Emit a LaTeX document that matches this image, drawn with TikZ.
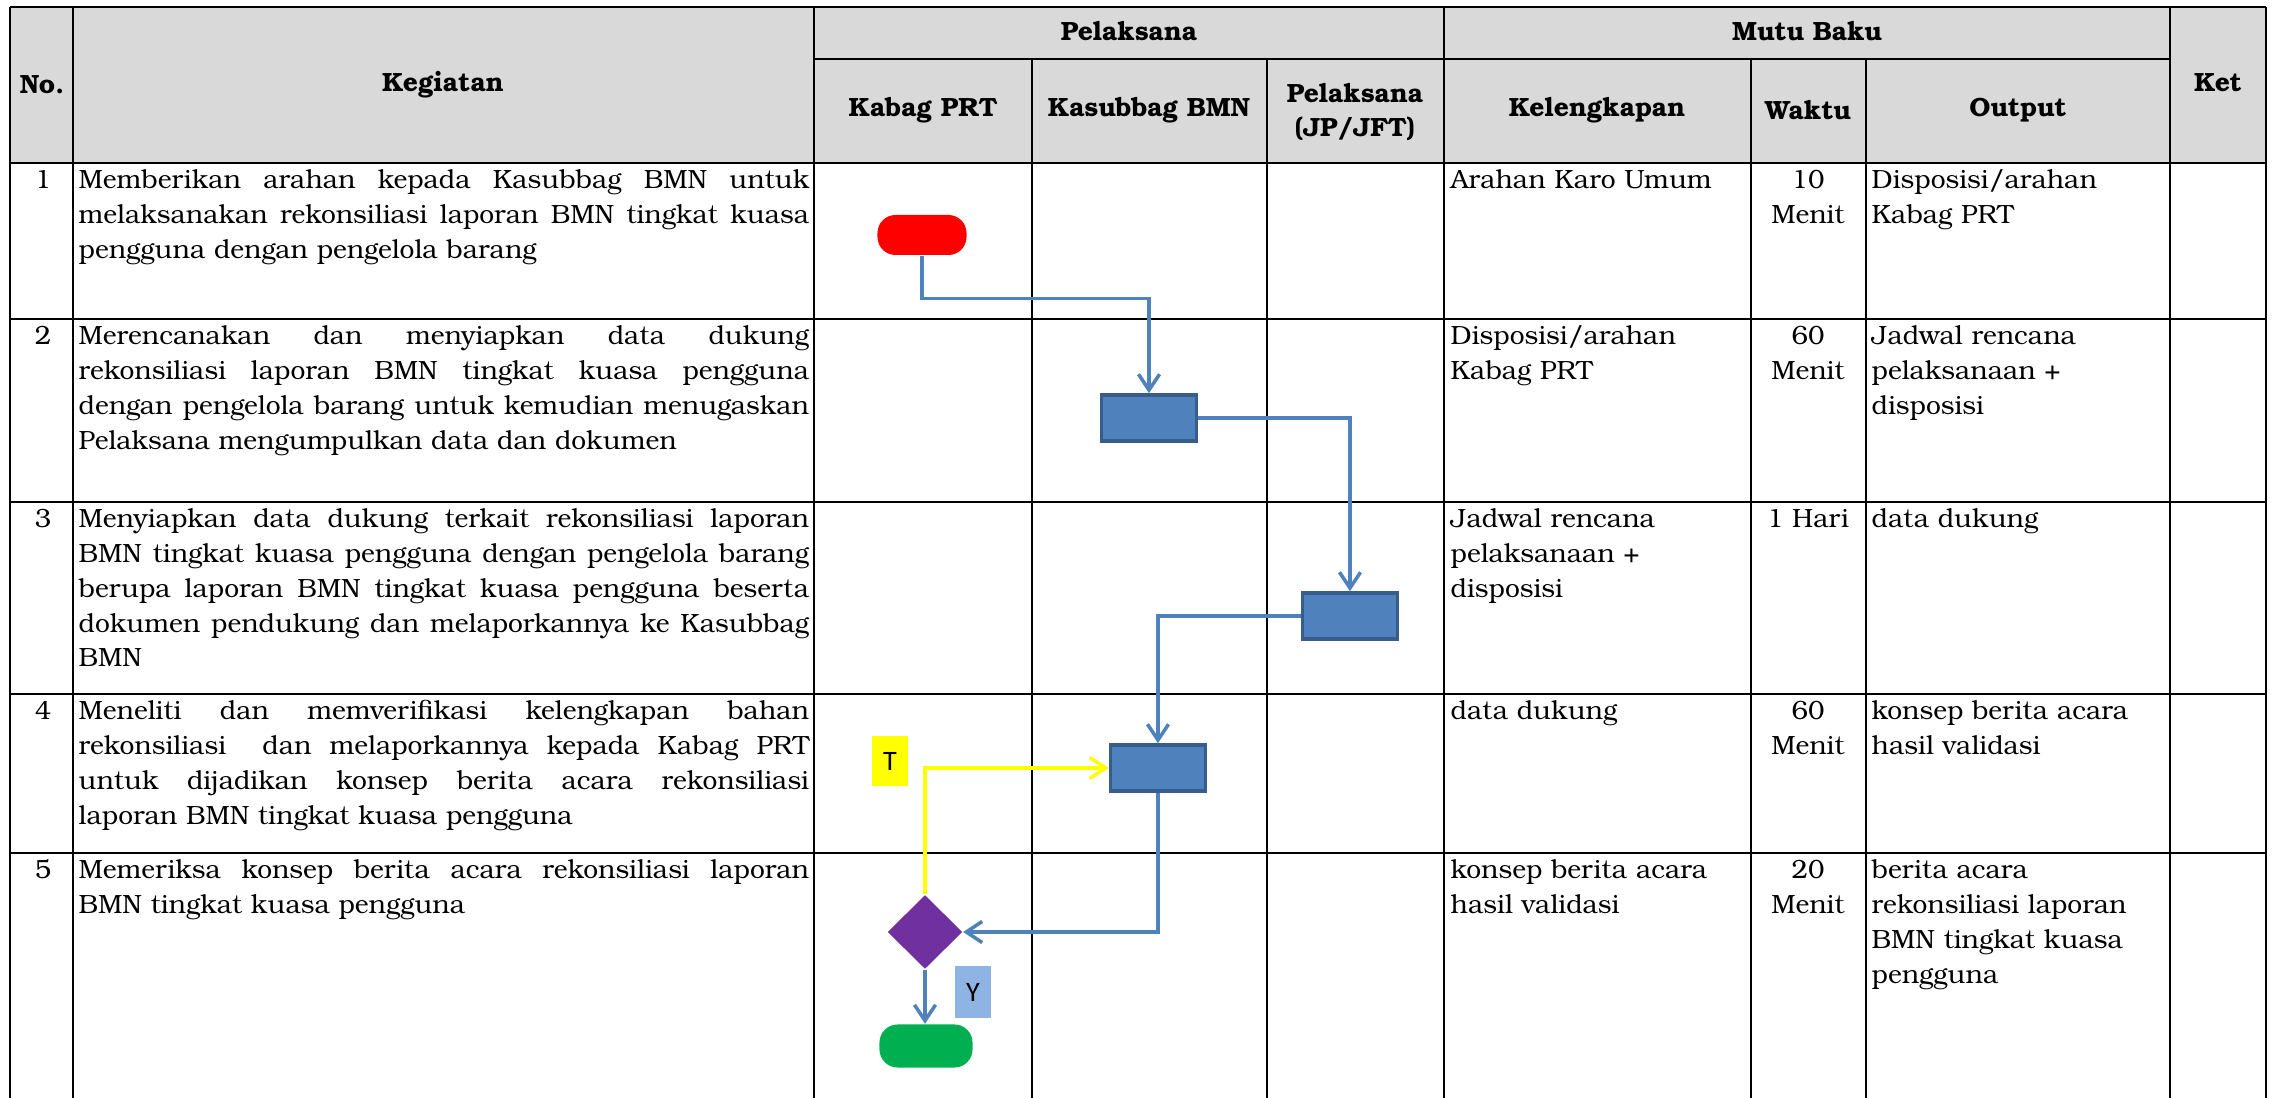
\documentclass[tikz,border=0pt]{standalone}
\usepackage{fontspec}
\setmainfont{TeX Gyre Bonum}
\newfontfamily\labelfont{Carlito}
\usetikzlibrary{shapes.geometric, arrows.meta, positioning}

\definecolor{headgray}{HTML}{D9D9D9}
\definecolor{flowblue}{HTML}{4F81BD}
\definecolor{boxedge}{HTML}{385D8A}
\definecolor{startred}{HTML}{FF0000}
\definecolor{decpurple}{HTML}{7030A0}
\definecolor{stopgreen}{HTML}{00B050}
\definecolor{noteyellow}{HTML}{FFFF00}
\definecolor{noteblue}{HTML}{8EB4E3}

\newcommand{\cellfont}{\fontsize{7.5pt}{9.87pt}\selectfont}
\newcommand{\jl}[1]{\leavevmode\hbox to 7.3cm{\spaceskip=\fontdimen2\font plus 1fil\relax #1}}

\begin{document}
\begin{tikzpicture}[x=0.01cm, y=-0.01cm,
  rule/.style={line width=0.7pt},
  head/.style={font=\cellfont\bfseries, align=center, inner sep=0},
  keg/.style={anchor=base west, text width=7.3cm, align=left, inner sep=0, font=\cellfont},
  cell/.style={anchor=base west, text width=2.9cm, align=left, inner sep=0, font=\cellfont},
  wkt/.style={anchor=base, text width=1.1cm, align=center, inner sep=0, font=\cellfont},
  num/.style={anchor=base, inner sep=0, font=\cellfont},
  proses/.style={draw=boxedge, fill=flowblue, line width=1pt, minimum width=0.95cm, minimum height=0.46cm, inner sep=0},
  term/.style={rounded corners=0.18cm, minimum width=0.9cm, minimum height=0.42cm, inner sep=0},
  flow/.style={draw=flowblue, line width=1pt, -{Straight Barb[length=4.5pt, width=6pt]}},
  note/.style={font=\labelfont\fontsize{8pt}{9pt}\selectfont, minimum width=0.36cm, minimum height=0.5cm, inner sep=0}]
\useasboundingbox (0, 0) rectangle (2274, 1098);
\fill [white] (0, 0) rectangle (2274, 1098);
\fill [headgray] (10, 7) rectangle (2266, 163);
\foreach \y in {7, 163, 319, 502, 694, 853}
  \draw [rule] (10, \y) -- (2266, \y);
\draw [rule] (814, 59) -- (2170, 59);
\foreach \x in {10, 73, 814, 1444, 2170, 2266}
  \draw [rule] (\x, 7) -- (\x, 1098);
\foreach \x in {1032, 1267, 1751, 1866}
  \draw [rule] (\x, 59) -- (\x, 1098);

\node [head] (hNo) at (42, 85) {No.};
\node [head] (hKeg) at (443, 85) {Kegiatan};
\node [head] (hPel) at (1129, 31) {Pelaksana};
\node [head] (hMutu) at (1807, 31) {Mutu Baku};
\node [head] (hKet) at (2218, 83) {Ket};
\node [head] (hKabag) at (923, 110) {Kabag PRT};
\node [head] (hKasub) at (1149, 110) {Kasubbag BMN};
\node [head] (hJft) at (1355, 112) {Pelaksana\\(JP/JFT)};
\node [head] (hKel) at (1597, 110) {Kelengkapan};
\node [head] (hWaktu) at (1808, 110) {Waktu};
\node [head] (hOut) at (2018, 110) {Output};

\node [num] (no1) at (43, 189) {1};
\node [keg] (keg1) at (78, 189) {\jl{Memberikan arahan kepada Kasubbag BMN untuk}\\\jl{melaksanakan rekonsiliasi laporan BMN tingkat kuasa}\\pengguna dengan pengelola barang};
\node [cell] (kel1) at (1450, 189) {Arahan Karo Umum};
\node [wkt] (wkt1) at (1808, 189) {10\\Menit};
\node [cell] (out1) at (1871, 189) {Disposisi/arahan\\Kabag PRT};

\node [num] (no2) at (43, 345) {2};
\node [keg] (keg2) at (78, 345) {\jl{Merencanakan dan menyiapkan data dukung}\\\jl{rekonsiliasi laporan BMN tingkat kuasa pengguna}\\\jl{dengan pengelola barang untuk kemudian menugaskan}\\Pelaksana mengumpulkan data dan dokumen};
\node [cell] (kel2) at (1450, 345) {Disposisi/arahan\\Kabag PRT};
\node [wkt] (wkt2) at (1808, 345) {60\\Menit};
\node [cell] (out2) at (1871, 345) {Jadwal rencana\\pelaksanaan +\\disposisi};

\node [num] (no3) at (43, 528) {3};
\node [keg] (keg3) at (78, 528) {\jl{Menyiapkan data dukung terkait rekonsiliasi laporan}\\\jl{BMN tingkat kuasa pengguna dengan pengelola barang}\\\jl{berupa laporan BMN tingkat kuasa pengguna beserta}\\\jl{dokumen pendukung dan melaporkannya ke Kasubbag}\\BMN};
\node [cell] (kel3) at (1450, 528) {Jadwal rencana\\pelaksanaan +\\disposisi};
\node [wkt] (wkt3) at (1808, 528) {1 Hari};
\node [cell] (out3) at (1871, 528) {data dukung};

\node [num] (no4) at (43, 720) {4};
\node [keg] (keg4) at (78, 720) {\jl{Meneliti dan memverifikasi kelengkapan bahan}\\\jl{rekonsiliasi\ \ dan melaporkannya kepada Kabag PRT}\\\jl{untuk dijadikan konsep berita acara rekonsiliasi}\\laporan BMN tingkat kuasa pengguna};
\node [cell] (kel4) at (1450, 720) {data dukung};
\node [wkt] (wkt4) at (1808, 720) {60\\Menit};
\node [cell] (out4) at (1871, 720) {konsep berita acara\\hasil validasi};

\node [num] (no5) at (43, 879) {5};
\node [keg] (keg5) at (78, 879) {\jl{Memeriksa konsep berita acara rekonsiliasi laporan}\\BMN tingkat kuasa pengguna};
\node [cell] (kel5) at (1450, 879) {konsep berita acara\\hasil validasi};
\node [wkt] (wkt5) at (1808, 879) {20\\Menit};
\node [cell] (out5) at (1871, 879) {berita acara\\rekonsiliasi laporan\\BMN tingkat kuasa\\pengguna};

\node [term, fill=startred, minimum width=0.89cm, minimum height=0.4cm] (start) at (922, 235) {};
\node [proses] (bmnA) at (1149, 418) {};
\node [proses] (jft) at (1350, 616) {};
\node [proses] (bmnB) at (1158, 768) {};
\node [diamond, fill=decpurple, minimum width=0.75cm, minimum height=0.74cm, inner sep=0] (cek) at (925, 932) {};
\node [term, fill=stopgreen, minimum width=0.93cm, minimum height=0.43cm] (stop) at (926, 1046) {};
\node [note, fill=noteyellow] (labT) at (890, 761) {T};
\node [note, fill=noteblue, minimum height=0.52cm] (labY) at (973, 992) {Y};

\draw [flow] (start.south) -- ++(0, 43) -| (bmnA.north);
\draw [flow] (bmnA.east) -| (jft.north);
\draw [flow] (jft.west) -| (bmnB.north);
\draw [flow] (bmnB.south) |- (cek.east);
\draw [flow, draw=noteyellow] (cek.north) |- (bmnB.west);
\draw [flow] (cek.south) -- (cek.south |- stop.north);
\end{tikzpicture}
\end{document}
